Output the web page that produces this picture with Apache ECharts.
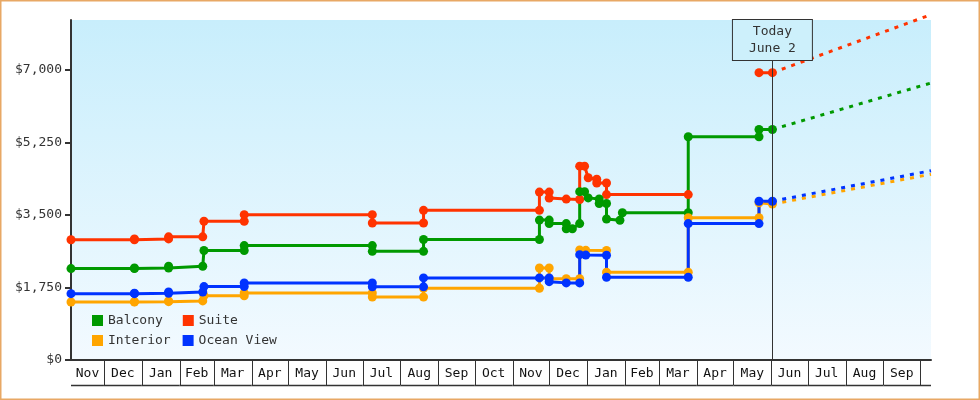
<!DOCTYPE html>
<html>
<head>
<meta charset="utf-8">
<title>Cabin prices</title>
<script src="https://cdn.jsdelivr.net/npm/echarts@6.0.0/dist/echarts.min.js"></script>
<style>
  html, body { margin: 0; padding: 0; background: #fff; }
  #chart { width: 980px; height: 400px; }
</style>
</head>
<body>
<div id="chart"></div>
<script>
// time range of the x axis and the "today" marker
var START = '2013-11-04';
var END = '2015-10-10';
var TODAY = '2015-06-02';
var TODAY_TEXT = 'Today\nJune 2';

var Y_TICKS = [0, 1750, 3500, 5250, 7000];
var MONTH_NAMES = ['Jan', 'Feb', 'Mar', 'Apr', 'May', 'Jun', 'Jul', 'Aug', 'Sep', 'Oct', 'Nov', 'Dec'];
var LEGEND_ROW1 = ['Balcony', 'Suite'];
var LEGEND_ROW2 = ['Interior', 'Ocean View'];

// price history, [date, price]
var SUITE = [
  ['2013-11-04', 2900],
  ['2013-12-26', 2900], ['2013-12-26', 2920],
  ['2014-01-23', 2920], ['2014-01-23', 2970],
  ['2014-02-20', 2970], ['2014-02-21', 3345],
  ['2014-03-26', 3345], ['2014-03-26', 3505],
  ['2014-07-09', 3505], ['2014-07-09', 3305],
  ['2014-08-20', 3305], ['2014-08-20', 3610],
  ['2014-11-23', 3610], ['2014-11-23', 4050],
  ['2014-12-01', 4050], ['2014-12-01', 3905],
  ['2014-12-15', 3880],
  ['2014-12-26', 3870], ['2014-12-26', 4675],
  ['2014-12-30', 4675],
  ['2015-01-02', 4395],
  ['2015-01-09', 4360], ['2015-01-09', 4270],
  ['2015-01-17', 4270], ['2015-01-17', 3990],
  ['2015-03-25', 3990],
  ['2015-04-20', null],
  ['2015-05-22', 6930],
  ['2015-06-02', 6930]
];
var BALCONY = [
  ['2013-11-04', 2205],
  ['2013-12-26', 2205], ['2013-12-26', 2220],
  ['2014-01-23', 2220], ['2014-01-23', 2260],
  ['2014-02-20', 2260], ['2014-02-21', 2640],
  ['2014-03-26', 2640], ['2014-03-26', 2760],
  ['2014-07-09', 2760], ['2014-07-09', 2620],
  ['2014-08-20', 2620], ['2014-08-20', 2905],
  ['2014-11-23', 2905], ['2014-11-23', 3375],
  ['2014-12-01', 3375], ['2014-12-01', 3290],
  ['2014-12-15', 3290], ['2014-12-15', 3165],
  ['2014-12-20', 3165],
  ['2014-12-26', 3290], ['2014-12-26', 4060],
  ['2014-12-30', 4060],
  ['2015-01-02', 3910],
  ['2015-01-11', 3885], ['2015-01-11', 3775],
  ['2015-01-17', 3775], ['2015-01-17', 3400],
  ['2015-01-28', 3370],
  ['2015-01-30', 3550],
  ['2015-03-25', 3550], ['2015-03-25', 5385],
  ['2015-05-22', 5385], ['2015-05-22', 5560],
  ['2015-06-02', 5560]
];
var INTERIOR = [
  ['2013-11-04', 1400],
  ['2013-12-26', 1400], ['2013-12-26', 1407],
  ['2014-01-23', 1407], ['2014-01-23', 1425],
  ['2014-02-20', 1425], ['2014-02-21', 1550],
  ['2014-03-26', 1550], ['2014-03-26', 1615],
  ['2014-07-09', 1615], ['2014-07-09', 1520],
  ['2014-08-20', 1520], ['2014-08-20', 1730],
  ['2014-11-23', 1730], ['2014-11-23', 2220],
  ['2014-12-01', 2220], ['2014-12-01', 1960],
  ['2014-12-15', 1960],
  ['2014-12-26', 1960], ['2014-12-26', 2655],
  ['2014-12-31', 2645],
  ['2015-01-17', 2640], ['2015-01-17', 2115],
  ['2015-03-25', 2115], ['2015-03-25', 3430],
  ['2015-05-22', 3430], ['2015-05-22', 3790],
  ['2015-06-02', 3760]
];
var OCEAN_VIEW = [
  ['2013-11-04', 1600],
  ['2013-12-26', 1600], ['2013-12-26', 1610],
  ['2014-01-23', 1610], ['2014-01-23', 1640],
  ['2014-02-20', 1640], ['2014-02-21', 1770],
  ['2014-03-26', 1770], ['2014-03-26', 1860],
  ['2014-07-09', 1860], ['2014-07-09', 1765],
  ['2014-08-20', 1765], ['2014-08-20', 1980],
  ['2014-11-23', 1980],
  ['2014-12-01', 1980], ['2014-12-01', 1890],
  ['2014-12-15', 1860],
  ['2014-12-26', 1860], ['2014-12-26', 2540],
  ['2014-12-31', 2530],
  ['2015-01-17', 2525], ['2015-01-17', 1995],
  ['2015-03-25', 1995], ['2015-03-25', 3290],
  ['2015-05-22', 3290], ['2015-05-22', 3830],
  ['2015-06-02', 3830]
];

// forecast from today to the end of the axis
var SUITE_FC = [['2015-06-02', 6930], ['2015-10-10', 8330]];
var BALCONY_FC = [['2015-06-02', 5560], ['2015-10-10', 6680]];
var INTERIOR_FC = [['2015-06-02', 3760], ['2015-10-10', 4480]];
var OCEAN_VIEW_FC = [['2015-06-02', 3830], ['2015-10-10', 4565]];

var COLORS = { 'Balcony': '#009900', 'Suite': '#ff3300', 'Interior': '#ffa500', 'Ocean View': '#0033ff' };
var FONT = '"DejaVu Sans Mono", "Liberation Mono", monospace';

function toTime(s) {
  var p = s.split('-');
  return new Date(+p[0], p[1] - 1, +p[2]).getTime();
}

var minT = toTime(START);
var maxT = toTime(END);

// one label cell per month on the x axis
var cells = [];
var cellNames = [];
var d = new Date(minT);
d = new Date(d.getFullYear(), d.getMonth(), 1);
while (d.getTime() < maxT) {
  var next = new Date(d.getFullYear(), d.getMonth() + 1, 1);
  cells.push([Math.max(d.getTime(), minT), Math.min(next.getTime(), maxT), 0]);
  cellNames.push(MONTH_NAMES[d.getMonth()]);
  d = next;
}

function renderCell(params, api) {
  var a = api.coord([api.value(0), 0]);
  var b = api.coord([api.value(1), 0]);
  var y = a[1];
  var kids = [
    { type: 'line', shape: { x1: a[0], y1: y + 25.5, x2: b[0], y2: y + 25.5 },
      style: { stroke: '#333', lineWidth: 1.5 } }
  ];
  // too narrow cells (the cut-off month at the end) get no label
  if (b[0] - a[0] > 26) {
    kids.push({ type: 'text', style: { x: (a[0] + b[0]) / 2, y: y + 14, text: cellNames[params.dataIndex],
      align: 'center', verticalAlign: 'middle', font: '13px ' + FONT, fill: '#111' } });
  }
  if (api.value(1) < maxT) {
    var sx = Math.round(b[0]) + 0.5;
    kids.push({ type: 'line', shape: { x1: sx, y1: y + 1, x2: sx, y2: y + 25 },
      style: { stroke: '#333', lineWidth: 1 } });
  }
  return { type: 'group', children: kids };
}

function history(name, data) {
  return {
    name: name,
    type: 'line',
    data: data,
    symbol: 'circle',
    symbolSize: 9,
    connectNulls: false,
    itemStyle: { color: COLORS[name] },
    lineStyle: { color: COLORS[name], width: 3 },
    emphasis: { disabled: true }
  };
}

function forecast(name, data) {
  return {
    name: name,
    type: 'line',
    data: data,
    showSymbol: false,
    clip: false,
    itemStyle: { color: COLORS[name] },
    lineStyle: { color: COLORS[name], width: 3, type: [4, 6] },
    emphasis: { disabled: true }
  };
}

function legendRow(names, top, gap) {
  return {
    data: names,
    left: 92, top: top,
    padding: 0,
    icon: 'rect',
    itemWidth: 11, itemHeight: 11,
    itemGap: gap,
    itemStyle: { borderWidth: 0 },
    textStyle: { fontFamily: FONT, fontSize: 13, color: '#333' }
  };
}

var chart = echarts.init(document.getElementById('chart'));

var oceanView = history('Ocean View', OCEAN_VIEW);
oceanView.markLine = {
  silent: true,
  symbol: ['none', 'none'],
  animation: false,
  lineStyle: { color: '#333', width: 1, type: 'solid' },
  label: {
    show: true,
    position: 'end',
    distance: 0,
    formatter: TODAY_TEXT,
    fontFamily: FONT,
    fontSize: 13,
    lineHeight: 17,
    color: '#333',
    align: 'center',
    backgroundColor: '#cdf0fb',
    borderColor: '#333',
    borderWidth: 1,
    padding: [3, 16]
  },
  // the line stops at the bottom of the "today" box
  data: [[{ coord: [toTime(TODAY), 0] }, { coord: [toTime(TODAY), 7235] }]]
};

var option = {
  animation: false,
  textStyle: { fontFamily: FONT },
  grid: {
    left: 71, right: 49, top: 20, bottom: 40,
    outerBoundsMode: 'none',
    show: true,
    borderWidth: 0,
    backgroundColor: new echarts.graphic.LinearGradient(0, 0, 0, 1, [
      { offset: 0, color: '#c8eefc' },
      { offset: 1, color: '#f3faff' }
    ])
  },
  graphic: [{
    type: 'rect', silent: true,
    shape: { x: 0.75, y: 0.75, width: 978.5, height: 398.5 },
    style: { fill: null, stroke: '#e8a865', lineWidth: 1.5 }
  }],
  legend: [
    legendRow(LEGEND_ROW1, 314, 20),
    legendRow(LEGEND_ROW2, 334, 12)
  ],
  xAxis: {
    type: 'time',
    min: minT,
    max: maxT,
    axisLine: { show: true, lineStyle: { color: '#333', width: 2 } },
    axisTick: { show: false },
    axisLabel: { show: false },
    splitLine: { show: false }
  },
  yAxis: {
    type: 'value',
    min: 0,
    max: 8200,
    axisLine: { show: true, lineStyle: { color: '#333', width: 2 } },
    axisTick: { show: true, length: 6, customValues: Y_TICKS, lineStyle: { color: '#333', width: 2 } },
    axisLabel: {
      customValues: Y_TICKS,
      margin: 9,
      color: '#333',
      fontFamily: FONT,
      fontSize: 13,
      formatter: function (v) { return '$' + v.toLocaleString('en-US'); }
    },
    splitLine: { show: false }
  },
  series: [
    history('Suite', SUITE),
    history('Balcony', BALCONY),
    history('Interior', INTERIOR),
    oceanView,
    forecast('Suite', SUITE_FC),
    forecast('Balcony', BALCONY_FC),
    forecast('Interior', INTERIOR_FC),
    forecast('Ocean View', OCEAN_VIEW_FC),
    {
      type: 'custom',
      data: cells,
      encode: { x: [0, 1], y: 2 },
      renderItem: renderCell,
      clip: false,
      silent: true,
      z: 5
    }
  ]
};

chart.setOption(option);
</script>
</body>
</html>
